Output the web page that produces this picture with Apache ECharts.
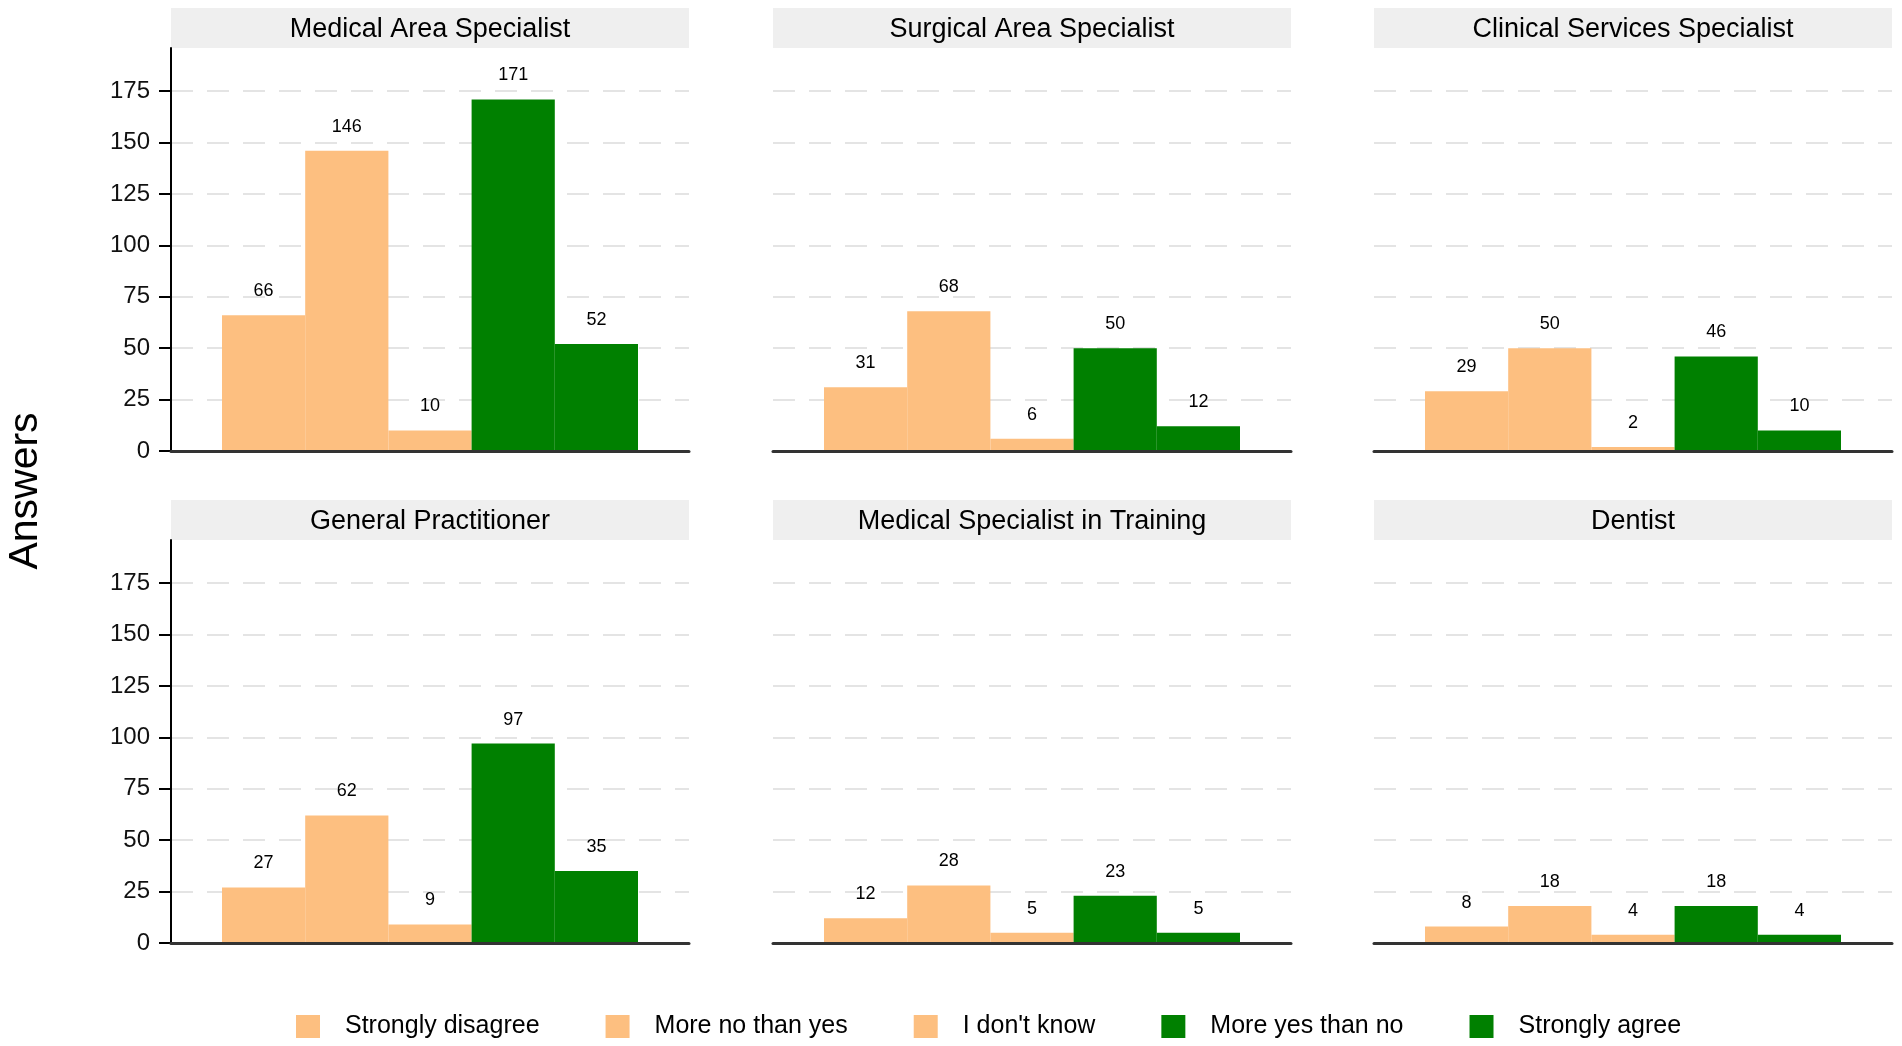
<!DOCTYPE html>
<html>
<head>
<meta charset="utf-8">
<title>Answers by specialty</title>
<script src="https://cdn.jsdelivr.net/npm/echarts@6/dist/echarts.min.js"></script>
<style>
    html, body { margin: 0; padding: 0; background: #fff; }
    #chart { width: 1902px; height: 1046px; }
</style>
</head>
<body>
<div id="chart"></div>
<script>
    // categories and tick labels
    var categories = ['Strongly disagree', 'More no than yes', "I don't know", 'More yes than no', 'Strongly agree'];
    var panelNames = ['Medical Area Specialist', 'Surgical Area Specialist', 'Clinical Services Specialist',
        'General Practitioner', 'Medical Specialist in Training', 'Dentist'];
    var yTicks = [0, 25, 50, 75, 100, 125, 150, 175];
    var yMax = 196;

    // answers per panel
    var medicalArea = [66, 146, 10, 171, 52];
    var surgicalArea = [31, 68, 6, 50, 12];
    var clinicalServices = [29, 50, 2, 46, 10];
    var generalPractitioner = [27, 62, 9, 97, 35];
    var inTraining = [12, 28, 5, 23, 5];
    var dentist = [8, 18, 4, 18, 4];
    var panelValues = [medicalArea, surgicalArea, clinicalServices, generalPractitioner, inTraining, dentist];

    // styles and layout
    var barColors = ['#FDBF80', '#FDBF80', '#FDBF80', '#008000', '#008000'];
    var font = "'Liberation Sans', Arial, Helvetica, sans-serif";
    var panelLefts = [171, 773, 1374];
    var panelTops = [48, 540];
    var panelW = 518;
    var panelH = 403;
    var stripH = 40;
    var barInset = 51;

    var grids = [], xAxes = [], yAxes = [], series = [], graphics = [];

    panelNames.forEach(function (name, i) {
        var col = i % 3;
        var row = Math.floor(i / 3);
        var left = panelLefts[col];
        var top = panelTops[row];
        var frame = grids.length;
        var inner = frame + 1;

        // 面板框架: y 轴、网格线、底部轴线
        grids.push({ left: left, top: top, width: panelW, height: panelH });
        // 柱子所在区域
        grids.push({ left: left + barInset, top: top, width: panelW - 2 * barInset, height: panelH });

        xAxes.push({
            gridIndex: frame, type: 'category', data: [''], z: 5,
            axisLine: { show: true, lineStyle: { color: '#333', width: 3 } },
            axisTick: { show: false },
            axisLabel: { show: false },
            splitLine: { show: false }
        });
        xAxes.push({ gridIndex: inner, type: 'category', data: categories, show: false });

        yAxes.push({
            gridIndex: frame, type: 'value', min: 0, max: yMax, interval: 25,
            axisLine: { show: col === 0, lineStyle: { color: '#000', width: 2 } },
            axisTick: { show: col === 0, length: 12, customValues: yTicks, lineStyle: { color: '#000', width: 2 } },
            axisLabel: {
                show: col === 0, margin: 21, fontSize: 24, color: '#111', fontFamily: font,
                customValues: yTicks,
                formatter: function (v) { return yTicks.indexOf(v) > -1 ? String(v) : ''; }
            },
            splitLine: {
                show: true, showMinLine: false,
                lineStyle: { color: '#e4e4e4', width: 2, type: [22, 14] }
            }
        });
        yAxes.push({ gridIndex: inner, type: 'value', min: 0, max: yMax, show: false });

        categories.forEach(function (cat, k) {
            series.push({
                type: 'bar',
                name: cat,
                xAxisIndex: inner,
                yAxisIndex: inner,
                data: panelValues[i].map(function (v, j) { return j === k ? v : '-'; }),
                barWidth: '100%',
                barGap: '-100%',
                itemStyle: { color: barColors[k] },
                label: {
                    show: true, position: 'top', distance: 15,
                    fontSize: 18, color: '#000', fontFamily: font
                }
            });
        });

        // 分面标题条
        graphics.push({
            type: 'rect',
            shape: { x: left, y: top - stripH, width: panelW, height: stripH },
            style: { fill: '#efefef' },
            silent: true
        });
        graphics.push({
            type: 'text',
            x: left + panelW / 2,
            y: top - stripH / 2 + 2,
            style: {
                text: name, fontSize: 27, fontFamily: font, fill: '#000',
                align: 'center', verticalAlign: 'middle',
                textAlign: 'center', textVerticalAlign: 'middle'
            },
            silent: true
        });
    });

    graphics.push({
        type: 'text',
        x: 26,
        y: 491,
        rotation: Math.PI / 2,
        style: {
            text: 'Answers', fontSize: 41, fontFamily: font, fill: '#000',
            align: 'center', verticalAlign: 'middle',
            textAlign: 'center', textVerticalAlign: 'middle'
        },
        silent: true
    });

    var myChart = echarts.init(document.getElementById('chart'));
    myChart.setOption({
        animation: false,
        backgroundColor: '#fff',
        textStyle: { fontFamily: font },
        legend: {
            data: categories,
            left: 296,
            top: 1014,
            padding: 0,
            icon: 'rect',
            itemWidth: 24,
            itemHeight: 23,
            itemGap: 66,
            textStyle: { fontSize: 25, color: '#000', fontFamily: font, padding: [0, 0, 0, 20] }
        },
        grid: grids,
        xAxis: xAxes,
        yAxis: yAxes,
        series: series,
        graphic: graphics
    });
</script>
</body>
</html>
